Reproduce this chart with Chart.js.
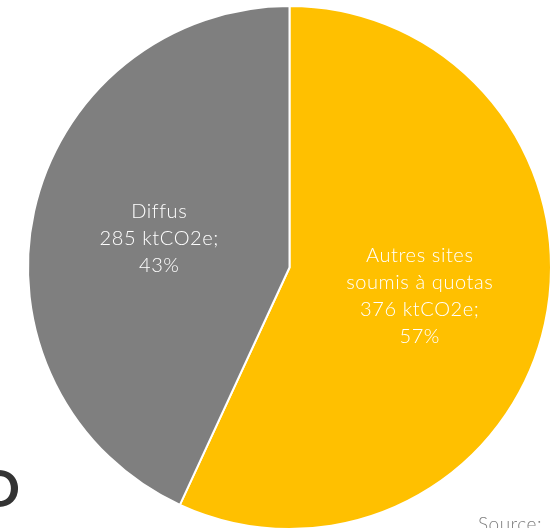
<!DOCTYPE html>
<html>
<head>
<meta charset="utf-8">
<script src="https://cdn.jsdelivr.net/npm/chart.js@4"></script>
<style>
  html, body { margin: 0; padding: 0; background: #fff; overflow: hidden; width: 556px; height: 528px; }
  #myChart { position: absolute; left: 0; top: 0; }
  #bigO { position: absolute; left: -22px; top: 456px; font: bold 52px Lato, sans-serif; color: #333; }
  #source { position: absolute; left: 478px; top: 512px; font: 300 19px Lato, sans-serif; color: #7f7f7f; letter-spacing: 0.5px; }
</style>
</head>
<body>
<canvas id="myChart" width="579" height="535"></canvas>
<div id="bigO">O</div>
<div id="source">Source:</div>
<script>
// values in ktCO2e
const labels = ['Autres sites soumis à quotas', 'Diffus'];
const labelLines = [['Autres sites', 'soumis à quotas', '376 ktCO2e;', '57%'], ['Diffus', '285 ktCO2e;', '43%']];
const values = [376, 285];
const colors = ['#FFC000', '#7F7F7F'];

// draws the text lines inside each slice
const sliceLabels = {
    id: 'sliceLabels',
    afterDatasetsDraw(chart) {
        const ctx = chart.ctx;
        const meta = chart.getDatasetMeta(0);
        ctx.save();
        ctx.fillStyle = '#fff';
        ctx.font = '300 20px Lato, sans-serif';
        ctx.letterSpacing = '0.6px';
        ctx.textAlign = 'center';
        ctx.textBaseline = 'middle';
        meta.data.forEach((arc, i) => {
            const p = arc.getProps(['x', 'y', 'startAngle', 'endAngle', 'outerRadius']);
            const mid = (p.startAngle + p.endAngle) / 2;
            const r = p.outerRadius * 0.51;
            const cx = p.x + Math.cos(mid) * r;
            const cy = p.y + Math.sin(mid) * r;
            const lines = labelLines[i];
            const lh = 27;
            lines.forEach((t, j) => {
                ctx.fillText(t, cx, cy + (j - (lines.length - 1) / 2) * lh);
            });
        });
        ctx.restore();
    }
};

const ctx = document.getElementById('myChart').getContext('2d');
const myChart = new Chart(ctx, {
    type: 'pie',
    data: {
        labels: labels,
        datasets: [{
            data: values,
            backgroundColor: colors,
            borderColor: '#ffffff',
            borderWidth: 2,
            hoverOffset: 0
        }]
    },
    options: {
        responsive: false,
        animation: false,
        layout: { padding: { top: 5, bottom: 5, left: 0, right: 0 } },
        plugins: {
            legend: { display: false },
            tooltip: { enabled: false }
        }
    },
    plugins: [sliceLabels]
});
</script>
</body>
</html>
